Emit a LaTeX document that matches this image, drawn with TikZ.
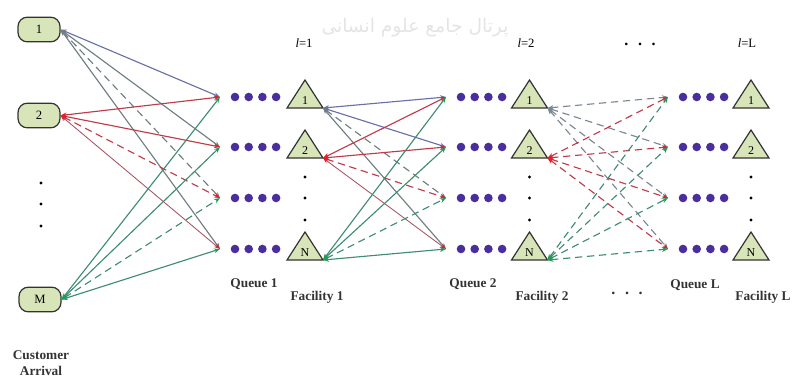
\documentclass[tikz,border=0pt]{standalone}
\usepackage{fontspec}
\setmainfont{Liberation Serif}
\newfontfamily\arabicfont[Script=Arabic]{DejaVu Sans}
\TeXXeTstate=1
\usetikzlibrary{arrows.meta}
\definecolor{nodefill}{HTML}{D8E5B8}
\definecolor{qdot}{HTML}{4B2E9E}
\definecolor{bluel}{HTML}{6870A8}
\definecolor{grayl}{HTML}{6F7E80}
\definecolor{redl}{HTML}{C03A4A}
\definecolor{redthin}{HTML}{A85562}
\definecolor{greenl}{HTML}{3F8C74}
\definecolor{redtip}{HTML}{E41E2A}
\definecolor{greentip}{HTML}{1E9E55}
\definecolor{graydash}{HTML}{7C8794}
\definecolor{wmark}{HTML}{E4E4E4}
\begin{document}
\begin{tikzpicture}[x=0.75pt,y=-0.75pt,
  cust/.style={draw=black!80, line width=0.9pt, fill=nodefill, rounded corners=7pt,
    minimum width=31.5pt, minimum height=18.5pt, inner sep=0pt, font=\fontsize{9.5}{9.5}\selectfont},
  trilbl/.style={inner sep=0pt, font=\fontsize{9}{9}\selectfont},
  tri/.style={draw=black!80, line width=0.9pt, fill=nodefill, line join=miter},
  lbl/.style={inner sep=0pt, font=\fontsize{10}{12}\selectfont\bfseries, text=black!80},
  lvl/.style={inner sep=0pt, font=\fontsize{9.5}{11}\selectfont},
  conn/.style={line width=0.85pt},
  bl/.style={conn, draw=bluel, {Stealth[length=4.5pt,width=3.5pt]}-{Stealth[length=4.5pt,width=3.5pt]}},
  gr/.style={conn, draw=grayl, {Stealth[length=4.5pt,width=3.5pt]}-{Stealth[length=4.5pt,width=3.5pt]}},
  gd/.style={conn, draw=graydash, {Stealth[length=4.5pt,width=3.5pt]}-{Stealth[length=4.5pt,width=3.5pt]}},
  rd/.style={conn, draw=redl, {Stealth[length=4.5pt,width=3.5pt,color=redtip]}-{Stealth[length=4.5pt,width=3.5pt,color=redtip]}},
  rt/.style={conn, line width=0.65pt, draw=redthin, {Stealth[length=4.5pt,width=3.5pt,color=redtip]}-{Stealth[length=4.5pt,width=3.5pt,color=redtip]}},
  gn/.style={conn, draw=greenl, {Stealth[length=4.5pt,width=3.5pt,color=greentip]}-{Stealth[length=4.5pt,width=3.5pt,color=greentip]}},
  dsh/.style={dash pattern=on 5.5pt off 3.5pt}
]
\useasboundingbox (0,0) rectangle (792,379);

% watermark
\node[text=wmark, font=\arabicfont\fontsize{14}{14}\selectfont, inner sep=0pt] (wm) at (415,28) {\beginR پرتال جامع علوم انسانی\endR};

% customer nodes
\node[cust] (c1) at (39,29.5) {1};
\node[cust] (c2) at (39,115.5) {2};
\node[cust] (cM) at (40,299.5) {M};
\foreach \yy in {183,204,226} \fill (41,\yy) circle (1.6);

% queue end coordinates and dots
\foreach \k/\qx in {1/220,2/446,3/668}{
  \foreach \r/\ry in {1/97,2/147,3/198,4/249}{
    \coordinate (q\k-\r) at (\qx,\ry);
    \foreach \i in {0,1,2,3}
      \fill[qdot] (\qx+15+13.7*\i,\ry) circle (4.3);
  }
}

% facilities (triangles)
\foreach \k/\fx in {1/305,2/529.5,3/751}{
  \foreach \r/\ry/\t in {1/97/1,2/147/2,4/249/N}{
    \draw[tri] (\fx-18,\ry+11) -- (\fx,\ry-17) -- (\fx+18,\ry+11) -- cycle;
    \node[trilbl] (t\k-\r) at (\fx,\ry+3.5) {\t};
    \coordinate (f\k-\r) at (\fx+18,\ry+11);
  }
  \foreach \yy in {177,198,220} \fill (\fx,\yy) circle (1.6);
}

% stage 1
\draw[bl] (c1.east) -- (q1-1);
\draw[gr] (c1.east) -- (q1-2);
\draw[gr,dsh] (c1.east) -- (q1-3);
\draw[gr] (c1.east) -- (q1-4);
\draw[rd] (c2.east) -- (q1-1);
\draw[rd] (c2.east) -- (q1-2);
\draw[rd,dsh] (c2.east) -- (q1-3);
\draw[rt] (c2.east) -- (q1-4);
\draw[gn] (cM.east) -- (q1-1);
\draw[gn] (cM.east) -- (q1-2);
\draw[gn,dsh] (cM.east) -- (q1-3);
\draw[gn] (cM.east) -- (q1-4);

% stage 2
\draw[bl] (f1-1) -- (q2-1);
\draw[bl] (f1-1) -- (q2-2);
\draw[gr,dsh] (f1-1) -- (q2-3);
\draw[gr] (f1-1) -- (q2-4);
\draw[rd] (f1-2) -- (q2-1);
\draw[rd] (f1-2) -- (q2-2);
\draw[rd,dsh] (f1-2) -- (q2-3);
\draw[rt] (f1-2) -- (q2-4);
\draw[gn] (f1-4) -- (q2-1);
\draw[gn] (f1-4) -- (q2-2);
\draw[gn,dsh] (f1-4) -- (q2-3);
\draw[gn] (f1-4) -- (q2-4);

% stage 3 (all dashed)
\foreach \r in {1,2,3,4}{
  \draw[gd,dsh] (f2-1) -- (q3-\r);
}
\foreach \r in {1,2,3,4}{
  \draw[rd,dsh] (f2-2) -- (q3-\r);
}
\foreach \r in {1,2,3,4}{
  \draw[gn,dsh] (f2-4) -- (q3-\r);
}

% level labels
\node[lvl] (l1) at (304,43) {\textit{l}=1};
\node[lvl] (l2) at (526,43) {\textit{l}=2};
\node[lvl] (lL) at (747,43) {\textit{l}=L};
\node[lvl, font=\fontsize{12}{12}\selectfont\bfseries] (topdots) at (640,44) {.\hspace{0.6em}.\hspace{0.6em}.};

% bottom labels
\node[lbl] (qn1) at (254,284) {Queue 1};
\node[lbl] (fn1) at (317,297) {Facility 1};
\node[lbl] (qn2) at (473,284) {Queue 2};
\node[lbl] (fn2) at (542,297) {Facility 2};
\node[lbl, font=\fontsize{12}{12}\selectfont\bfseries] (botdots) at (627,293) {.\hspace{0.6em}.\hspace{0.6em}.};
\node[lbl] (qnL) at (695,285) {Queue L};
\node[lbl] (fnL) at (763,297) {Facility L};
\node[lbl, align=center, font=\fontsize{10}{11.5}\selectfont\bfseries] (ca) at (41,363) {Customer\\Arrival};
\end{tikzpicture}
\end{document}
